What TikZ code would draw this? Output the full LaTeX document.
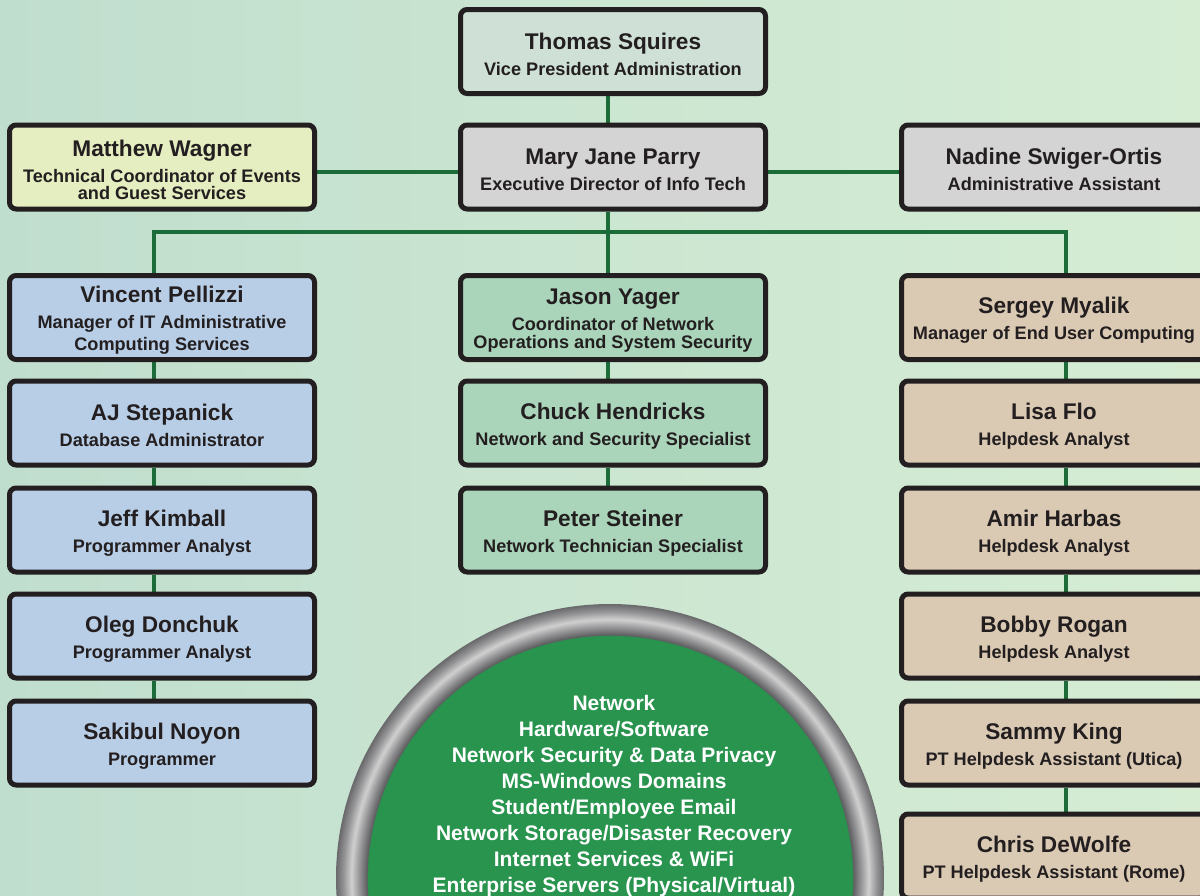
\documentclass[tikz,border=0pt]{standalone}
\usepackage{fontspec}
\setmainfont{Liberation Sans}
\definecolor{bordc}{RGB}{35,31,32}
\definecolor{linec}{RGB}{28,108,58}
\definecolor{txtc}{RGB}{35,31,32}
\definecolor{cthomas}{RGB}{207,224,214}
\definecolor{cgray}{RGB}{212,212,212}
\definecolor{cyellow}{RGB}{229,238,192}
\definecolor{cblue}{RGB}{184,205,230}
\definecolor{cgreenbox}{RGB}{170,213,186}
\definecolor{ctan}{RGB}{218,201,179}
\definecolor{cgreen}{RGB}{40,148,78}
\definecolor{ringA}{RGB}{92,92,94}
\definecolor{ringB}{RGB}{150,150,152}
\definecolor{ringC}{RGB}{208,208,208}
\definecolor{ringD}{RGB}{105,105,107}
\definecolor{bgleft}{RGB}{192,222,206}
\definecolor{bgright}{RGB}{214,237,212}
\pgfdeclareradialshading{ringshade}{\pgfpoint{0bp}{0bp}}{color(0bp)=(cgreen); color(22.1bp)=(cgreen); color(22.16bp)=(ringA); color(22.9bp)=(ringB); color(23.6bp)=(ringC); color(24.3bp)=(ringB); color(25bp)=(ringD); color(50bp)=(ringD)}
\pgfdeclarelayer{bg}
\pgfdeclarelayer{edges}
\pgfsetlayers{bg,edges,main}
\tikzset{
  orgbox/.style={draw=bordc, line width=3.75pt, rounded corners=5pt,
    minimum width=228.75pt, minimum height=63pt, inner sep=0pt,
    align=center, text=txtc, font=\bfseries\fontsize{13.6}{13.5}\selectfont},
  grayboxA/.style={orgbox, fill=cthomas},
  grayboxB/.style={orgbox, fill=cgray},
  yellowbox/.style={orgbox, fill=cyellow},
  bluebox/.style={orgbox, fill=cblue},
  greenbox/.style={orgbox, fill=cgreenbox},
  tanbox/.style={orgbox, fill=ctan},
  conn/.style={draw=linec, line width=2.6pt},
  circtext/.style={align=center, text=white, inner sep=0pt,
    font=\bfseries\fontsize{15.75}{19.5}\selectfont},
}
\newcommand{\nm}[1]{{\fontsize{17}{17}\selectfont\rule{0pt}{16.5pt}#1}}
\begin{document}
\begin{tikzpicture}[x=0.75pt,y=-0.75pt]
\useasboundingbox (0,0) rectangle (1200,896);
\begin{pgfonlayer}{bg}
  \shade[left color=bgleft, right color=bgright] (0,0) rectangle (1200,896);
  \shade[shading=ringshade] (610,878) circle (205.5pt);
\end{pgfonlayer}

% top
\node[grayboxA] (thomas) at (613,51.5) {\nm{Thomas Squires}\\[6pt]Vice President Administration};
\node[grayboxB] (mary) at (613,167) {\nm{Mary Jane Parry}\\[6pt]Executive Director of Info Tech};
\node[yellowbox] (matthew) at (162,167) {\nm{Matthew Wagner}\\[6pt]Technical Coordinator of Events\\[-0.8pt]and Guest Services};
\node[grayboxB] (nadine) at (1054,167) {\nm{Nadine Swiger-Ortis}\\[6pt]Administrative Assistant};

% left column
\node[bluebox] (vincent) at (162,317.5) {\nm{Vincent Pellizzi}\\[6pt]Manager of IT Administrative\\[3pt]Computing Services};
\node[bluebox] (aj) at (162,423) {\nm{AJ Stepanick}\\[6pt]Database Administrator};
\node[bluebox] (jeff) at (162,530) {\nm{Jeff Kimball}\\[6pt]Programmer Analyst};
\node[bluebox] (oleg) at (162,636) {\nm{Oleg Donchuk}\\[6pt]Programmer Analyst};
\node[bluebox] (sakibul) at (162,743) {\nm{Sakibul Noyon}\\[6pt]Programmer};

% middle column
\node[greenbox] (jason) at (613,317.5) {\nm{Jason Yager}\\[6pt]Coordinator of Network\\Operations and System Security};
\node[greenbox] (chuck) at (613,423) {\nm{Chuck Hendricks}\\[6pt]Network and Security Specialist};
\node[greenbox] (peter) at (613,530) {\nm{Peter Steiner}\\[6pt]Network Technician Specialist};

% right column
\node[tanbox] (sergey) at (1054,317.5) {\nm{Sergey Myalik}\\[6pt]Manager of End User Computing};
\node[tanbox] (lisa) at (1054,423) {\nm{Lisa Flo}\\[6pt]Helpdesk Analyst};
\node[tanbox] (amir) at (1054,530) {\nm{Amir Harbas}\\[6pt]Helpdesk Analyst};
\node[tanbox] (bobby) at (1054,636) {\nm{Bobby Rogan}\\[6pt]Helpdesk Analyst};
\node[tanbox] (sammy) at (1054,743) {\nm{Sammy King}\\[6pt]PT Helpdesk Assistant (Utica)};
\node[tanbox] (chris) at (1054,856) {\nm{Chris DeWolfe}\\[6pt]PT Helpdesk Assistant (Rome)};

% services circle text
\node[circtext] (services) at (614,796) {Network\\Hardware/Software\\Network Security \& Data Privacy\\MS-Windows Domains\\Student/Employee Email\\Network Storage/Disaster Recovery\\Internet Services \& WiFi\\Enterprise Servers (Physical/Virtual)};

% connector guides
\coordinate (midx) at (608,0);
\coordinate (leftx) at (154,0);
\coordinate (rightx) at (1066,0);
\coordinate (busy) at (0,232);
\coordinate (sidey) at (0,172);

\begin{pgfonlayer}{edges}
  \draw[conn] (thomas.south -| midx) -- (mary.north -| midx);
  \draw[conn] (matthew.east |- sidey) -- (mary.west |- sidey);
  \draw[conn] (mary.east |- sidey) -- (nadine.west |- sidey);
  \draw[conn] (mary.south -| midx) -- (jason.north -| midx);
  \draw[conn] (vincent.north -| leftx) -- (leftx |- busy) -- (rightx |- busy) -- (sergey.north -| rightx);
  \draw[conn] (vincent.south -| leftx) -- (aj.north -| leftx);
  \draw[conn] (aj.south -| leftx) -- (jeff.north -| leftx);
  \draw[conn] (jeff.south -| leftx) -- (oleg.north -| leftx);
  \draw[conn] (oleg.south -| leftx) -- (sakibul.north -| leftx);
  \draw[conn] (jason.south -| midx) -- (chuck.north -| midx);
  \draw[conn] (chuck.south -| midx) -- (peter.north -| midx);
  \draw[conn] (sergey.south -| rightx) -- (lisa.north -| rightx);
  \draw[conn] (lisa.south -| rightx) -- (amir.north -| rightx);
  \draw[conn] (amir.south -| rightx) -- (bobby.north -| rightx);
  \draw[conn] (bobby.south -| rightx) -- (sammy.north -| rightx);
  \draw[conn] (sammy.south -| rightx) -- (chris.north -| rightx);
\end{pgfonlayer}
\end{tikzpicture}
\end{document}
